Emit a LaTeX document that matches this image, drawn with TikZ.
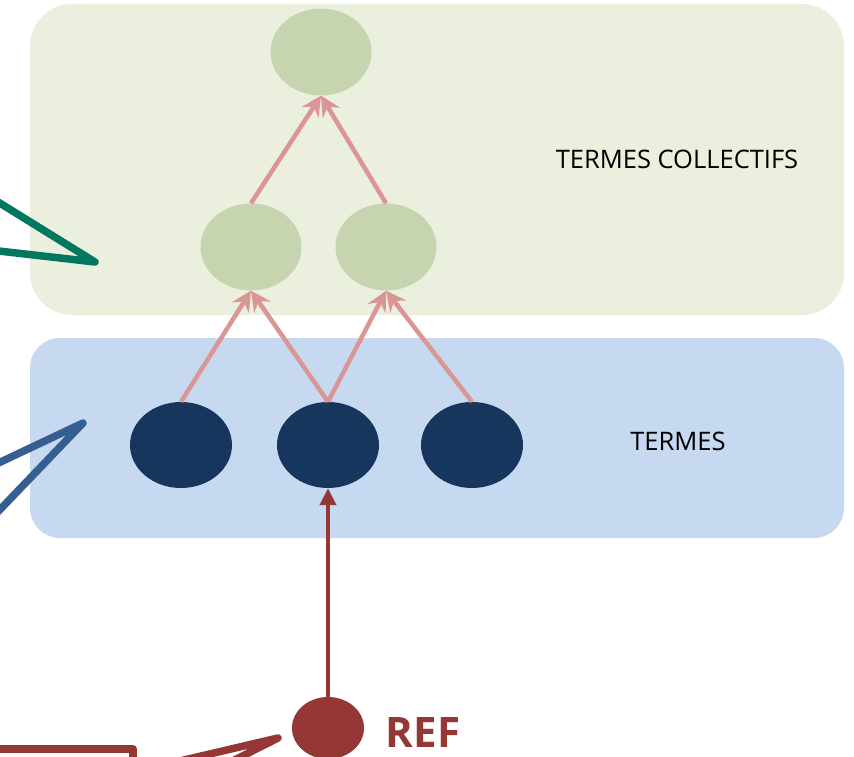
\documentclass[tikz,border=0pt]{standalone}
\usepackage{fontspec}
\setmainfont{Open Sans}
\usetikzlibrary{arrows.meta,shapes.geometric}
\definecolor{gbox}{HTML}{EBEFDE}
\definecolor{gell}{HTML}{C7D4B0}
\definecolor{bbox}{HTML}{C6D9F0}
\definecolor{dell}{HTML}{17365D}
\definecolor{pinkc}{HTML}{D99694}
\definecolor{redc}{HTML}{953735}
\definecolor{tealc}{HTML}{00785F}
\definecolor{bluec}{HTML}{365F91}
\tikzset{
  gnode/.style={ellipse, fill=gell, minimum width=101pt, minimum height=87pt, inner sep=0pt},
  dnode/.style={ellipse, fill=dell, minimum width=102pt, minimum height=86pt, inner sep=0pt},
  rnode/.style={ellipse, fill=redc, minimum width=72pt, minimum height=62pt, inner sep=0pt},
  parrow/.style={draw=pinkc, line width=4.5pt, -{Stealth[length=20pt, width=20pt, inset=7pt]}},
  rarrow/.style={draw=redc, line width=4pt, -{Triangle[length=17pt, width=16pt]}},
  callout/.style={line width=7.5pt, line join=round, line cap=round},
  lbl/.style={font=\fontsize{25.5pt}{30pt}\selectfont, text=black}
}
\begin{document}
\begin{tikzpicture}[x=1pt,y=-1pt]
\useasboundingbox (0,0) rectangle (854,757);
\clip (0,0) rectangle (854,757);
\fill[gbox, rounded corners=42pt] (30,4) rectangle (844,315);
\fill[bbox, rounded corners=30pt] (30,338) rectangle (844,538);
\node[gnode] (top) at (321,52) {};
\node[gnode] (ml) at (251,247) {};
\node[gnode] (mr) at (386,247) {};
\node[dnode] (d1) at (181,445) {};
\node[dnode] (d2) at (328,445) {};
\node[dnode] (d3) at (472,445) {};
\node[rnode] (ref) at (328,728) {};
\node[lbl, anchor=center] (tc) at (677,159) {TERMES COLLECTIFS};
\node[lbl, anchor=center] (tt) at (678,441) {TERMES};
\node[font=\fontsize{42pt}{46pt}\selectfont\bfseries, text=redc] (reft) at (423,733) {REF};
\draw[parrow] (ml.north) -- (top.south);
\draw[parrow] (mr.north) -- (top.south);
\draw[parrow] (d1.north) -- (ml.south);
\draw[parrow] (d2.north) -- (ml.south);
\draw[parrow] (d2.north) -- (mr.south);
\draw[parrow] (d3.north) -- (mr.south);
\draw[rarrow] (ref.north) -- (d2.south);
\coordinate (tA) at (-10,197);
\coordinate (tB) at (95,262);
\coordinate (tC) at (-10,250);
\draw[callout, draw=tealc] (tA) -- (tB) -- (tC);
\coordinate (bA) at (-10,467);
\coordinate (bB) at (83,423);
\coordinate (bC) at (-10,520);
\draw[callout, draw=bluec] (bA) -- (bB) -- (bC);
\coordinate (rA) at (-10,749);
\coordinate (rB) at (133,749);
\coordinate (rC) at (133,770);
\draw[line width=8pt, draw=redc, line join=round] (rA) -- (rB) -- (rC);
\coordinate (wA) at (120,775);
\coordinate (wB) at (278,738);
\coordinate (wC) at (205,775);
\draw[callout, draw=redc] (wA) -- (wB) -- (wC);
\end{tikzpicture}
\end{document}
